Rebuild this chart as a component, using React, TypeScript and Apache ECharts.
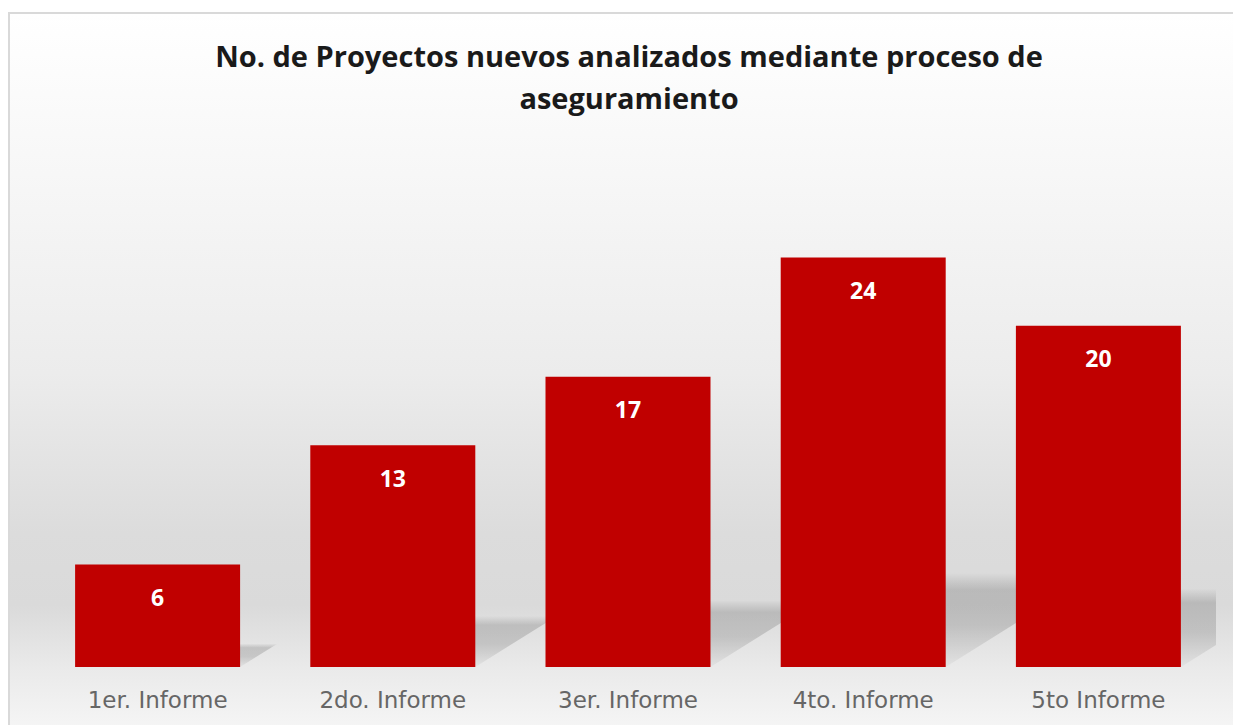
import React, { useEffect, useRef } from "react";
import * as echarts from "echarts";

const titleLines = ["No. de Proyectos nuevos analizados mediante proceso de", "aseguramiento"];
const categories = ["1er. Informe", "2do. Informe", "3er. Informe", "4to. Informe", "5to Informe"];
const values = [6, 13, 17, 24, 20];

const FONT = "'Open Sans', Lato, sans-serif";
const LABEL_FONT = "'DejaVu Sans', 'Open Sans', sans-serif";
const BAR_W = 165;

export default function App() {
  const ref = useRef<HTMLDivElement>(null);
  useEffect(() => {
    if (!ref.current) return;
    const chart = echarts.init(ref.current, undefined, { renderer: "svg" });
    chart.setOption({
      animation: false,
      title: {
        text: titleLines.join("\n"),
        left: 624,
        top: 29,
        textAlign: "center",
        textStyle: {
          fontFamily: FONT,
          fontWeight: "bold",
          fontSize: 29,
          lineHeight: 42,
          color: "#1a1a1a",
        },
      },
      graphic: [
        {
          type: "rect",
          z: -10,
          silent: true,
          shape: { x: 9, y: 13, width: 1300, height: 800 },
          style: {
            fill: new echarts.graphic.LinearGradient(0, 0, 0, 1, [
              { offset: 0, color: "#ffffff" },
              { offset: 0.2, color: "#f7f7f7" },
              { offset: 0.45, color: "#ececec" },
              { offset: 0.65, color: "#dcdcdc" },
              { offset: 0.74, color: "#dadada" },
              { offset: 0.82, color: "#eaeaea" },
              { offset: 0.9, color: "#f6f6f6" },
              { offset: 1, color: "#fbfbfb" },
            ]),
            stroke: "#d9d9d9",
            lineWidth: 2,
          },
        },
      ],
      grid: { left: 40, right: 17, top: 155, bottom: 58 },
      xAxis: {
        type: "category",
        data: categories,
        axisLine: { show: false },
        axisTick: { show: false },
        axisLabel: {
          color: "#666666",
          fontFamily: LABEL_FONT,
          fontSize: 23,
          margin: 21,
        },
      },
      yAxis: {
        type: "value",
        min: 0,
        max: 30,
        show: false,
        splitLine: { show: false },
      },
      series: [
        {
          type: "custom",
          clip: true,
          z: 1,
          silent: true,
          data: values.map((v, i) => [i, v]),
          renderItem: (params: any, api: any) => {
            const i = api.value(0);
            const v = api.value(1);
            const base = api.coord([i, 0]);
            const top = api.coord([i, v]);
            const h = base[1] - top[1];
            const dy = 0.23 * h;
            const dx = 1.6 * dy;
            const xL = base[0] - BAR_W / 2;
            const xR = base[0] + BAR_W / 2;
            const y0 = base[1];
            return {
              type: "polygon",
              shape: {
                points: [
                  [xL, y0],
                  [xR, y0],
                  [xR + dx, y0 - dy],
                  [xL + dx, y0 - dy],
                ],
              },
              style: {
                fill: new echarts.graphic.LinearGradient(0, 0, 0, 1, [
                  { offset: 0, color: "rgba(0,0,0,0)" },
                  { offset: 0.18, color: "rgba(0,0,0,0.15)" },
                  { offset: 0.55, color: "rgba(0,0,0,0.14)" },
                  { offset: 1, color: "rgba(0,0,0,0.03)" },
                ]),
              },
            };
          },
        },
        {
          type: "bar",
          z: 5,
          data: values,
          barWidth: BAR_W,
          itemStyle: { color: "#C00000" },
          label: {
            show: true,
            position: "insideTop",
            distance: 21,
            color: "#ffffff",
            fontFamily: FONT,
            fontWeight: "bold",
            fontSize: 23,
          },
        },
      ],
    });
    return () => chart.dispose();
  }, []);
  return (
    <div
      ref={ref}
      style={{ position: "fixed", left: 0, top: 0, width: 1233, height: 725, background: "#ffffff" }}
    />
  );
}
